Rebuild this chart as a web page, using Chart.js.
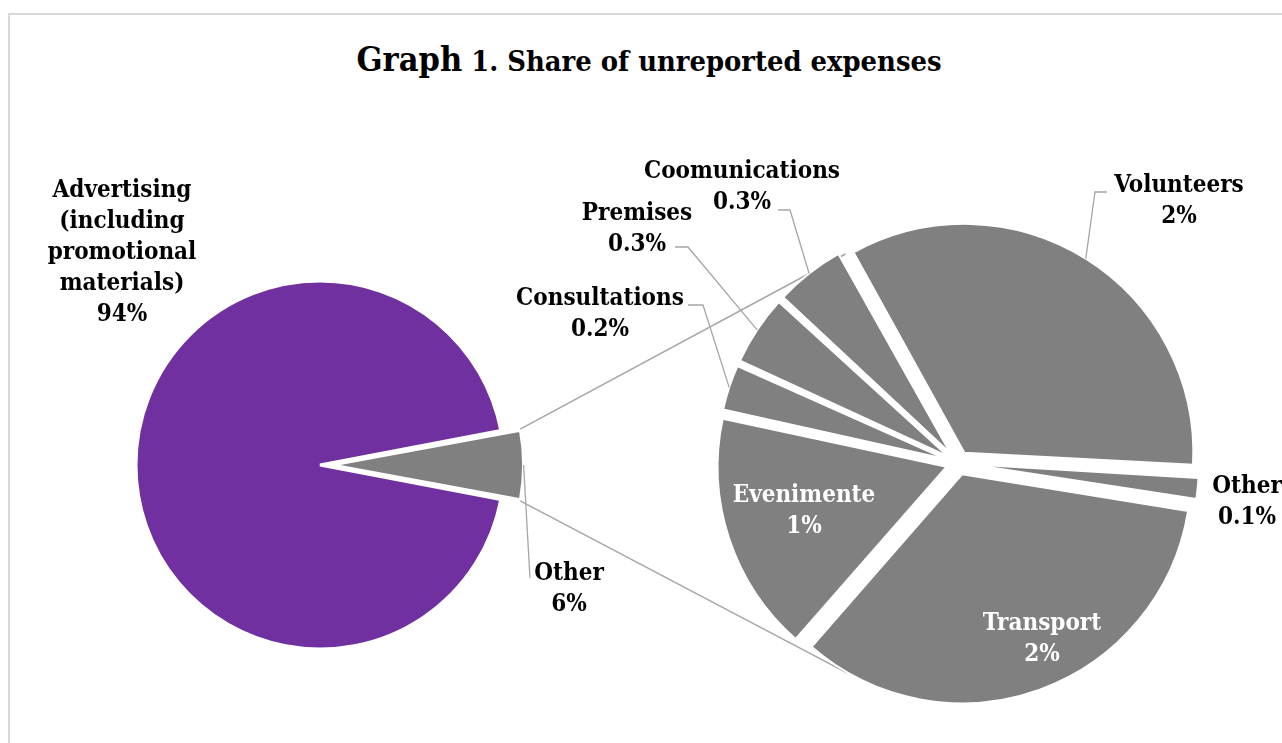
<!DOCTYPE html>
<html>
<head>
<meta charset="utf-8">
<title>Share of unreported expenses</title>
<script src="https://cdn.jsdelivr.net/npm/chart.js@4.4.1/dist/chart.umd.min.js"></script>
<style>
  html, body { margin: 0; padding: 0; background: #fff; overflow: hidden; }
  #page { position: relative; width: 1282px; height: 743px; overflow: hidden; }
  #frame { position: absolute; left: 8px; top: 13px; width: 1400px; height: 800px; border: 2px solid #d9d9d9; }
  #title {
    position: absolute; left: 0; top: 42px; width: 1298px; text-align: center;
    font-family: 'DejaVu Serif Condensed', 'DejaVu Serif', serif; font-weight: bold;
    color: #000; line-height: 1; white-space: nowrap;
  }
  #title .big { font-size: 34px; }
  #title .rest { font-size: 28.8px; }
  canvas { position: absolute; left: 0; top: 0; }
</style>
</head>
<body>
<div id="page">
  <div id="frame"></div>
  <div id="title"><span class="big">Graph</span><span class="rest"> 1. Share of unreported expenses</span></div>
  <canvas id="mainPie" width="1282" height="743"></canvas>
  <canvas id="detailPie" width="1282" height="743"></canvas>
</div>
<script>
// overall split of unreported expenses, %
const mainLabels = [['Advertising', '(including', 'promotional', 'materials)'], 'Other'];
const mainValues = [94, 6];

// what the "Other" slice is made of, %
const detailLabels = ['Volunteers', 'Other', 'Transport', 'Evenimente', 'Consultations', 'Premises', 'Coomunications'];
const detailValues = [2, 0.1, 2, 1, 0.2, 0.3, 0.3];

const FONT = "bold 24px 'DejaVu Serif Condensed', 'DejaVu Serif', serif";
const LINE_H = 31;
const LEADER = '#a6a6a6';

// label spots: centre x, baseline of first line, and the bend of the leader line
const mainLabelPos = [
  { x: 122, y: 197 },
  { x: 569, y: 580, leader: [[530, 578]] }
];
const detailLabelPos = [
  { x: 1179, y: 192, leader: [[1107, 192], [1095, 192]] },
  { x: 1247, y: 493 },
  { x: 1042, y: 630, color: '#fff' },
  { x: 804, y: 502, color: '#fff' },
  { x: 600, y: 305, leader: [[688, 305], [703, 305]] },
  { x: 637, y: 220, leader: [[675, 247], [688, 247]] },
  { x: 742, y: 178, leader: [[778, 210], [790, 210]] }
];

// chart.js pushes an offset slice out by offset/4 and also grows its radius
function shiftOf(arc) {
  return (arc.options.offset || 0) / 4;
}
function drawnRadius(arc) {
  const fix = 1 - Math.sin(Math.min(Math.PI, arc.circumference));
  return arc.outerRadius + shiftOf(arc) * fix;
}
function rimPoint(arc, angle) {
  const mid = (arc.startAngle + arc.endAngle) / 2;
  const s = shiftOf(arc), r = drawnRadius(arc);
  return {
    x: arc.x + Math.cos(mid) * s + Math.cos(angle) * r,
    y: arc.y + Math.sin(mid) * s + Math.sin(angle) * r
  };
}

function drawLabels(chart, labels, values, spots) {
  const ctx = chart.ctx;
  const arcs = chart.getDatasetMeta(0).data;
  ctx.save();
  arcs.forEach((arc, i) => {
    const pos = spots[i];
    if (pos.leader) {
      const mid = (arc.startAngle + arc.endAngle) / 2;
      const end = rimPoint(arc, mid);
      ctx.beginPath();
      ctx.strokeStyle = LEADER;
      ctx.lineWidth = 1.3;
      pos.leader.forEach((p, k) => k ? ctx.lineTo(p[0], p[1]) : ctx.moveTo(p[0], p[1]));
      ctx.lineTo(end.x, end.y);
      ctx.stroke();
    }
    const lines = [].concat(labels[i], values[i] + '%');
    ctx.font = FONT;
    ctx.fillStyle = pos.color || '#000';
    ctx.textAlign = 'center';
    ctx.textBaseline = 'alphabetic';
    lines.forEach((t, k) => ctx.fillText(t, pos.x, pos.y + k * LINE_H));
  });
  ctx.restore();
}

const mainLabelsPlugin = {
  id: 'mainLabels',
  afterDatasetsDraw(chart) {
    drawLabels(chart, mainLabels, mainValues, mainLabelPos);
  }
};

const mainChart = new Chart(document.getElementById('mainPie'), {
  type: 'pie',
  data: {
    labels: mainLabels,
    datasets: [{
      data: mainValues,
      backgroundColor: ['#7030a0', '#808080'],
      borderColor: '#ffffff',
      borderWidth: 3,
      offset: [0, 48]
    }]
  },
  options: {
    responsive: false,
    animation: false,
    events: [],
    radius: 184,
    // keep the "Other" slice pointing straight at the breakdown pie
    rotation: 90 + 180 * mainValues[1] / (mainValues[0] + mainValues[1]),
    layout: { padding: { left: 0, right: 642, top: 200, bottom: 13 } },
    plugins: { legend: { display: false }, tooltip: { enabled: false } }
  },
  plugins: [mainLabelsPlugin]
});

// lines from the corners of the small slice, touching the breakdown pie
function tangentPoint(p, c, r, upper) {
  const d = Math.hypot(p.x - c.x, p.y - c.y);
  const phi = Math.atan2(p.y - c.y, p.x - c.x);
  const a = Math.acos(Math.min(1, r / d));
  const t1 = { x: c.x + r * Math.cos(phi + a), y: c.y + r * Math.sin(phi + a) };
  const t2 = { x: c.x + r * Math.cos(phi - a), y: c.y + r * Math.sin(phi - a) };
  if (upper) return t1.y < t2.y ? t1 : t2;
  return t1.y > t2.y ? t1 : t2;
}

const detailPlugin = {
  id: 'detailPlugin',
  afterDatasetsUpdate(chart) {
    // same rim for every exploded slice
    chart.getDatasetMeta(0).data.forEach(arc => {
      const fix = 1 - Math.sin(Math.min(Math.PI, arc.circumference));
      arc.outerRadius -= shiftOf(arc) * fix;
    });
  },
  beforeDatasetsDraw(chart) {
    const small = mainChart.getDatasetMeta(0).data[1];
    const ref = chart.getDatasetMeta(0).data[0];
    const c = { x: ref.x, y: ref.y };
    // the exploded slices sit a little outside the nominal rim
    const r = chart.options.radius + shiftOf(ref) * 0.7;
    const top = rimPoint(small, small.startAngle);
    const bottom = rimPoint(small, small.endAngle);
    const ctx = chart.ctx;
    ctx.save();
    ctx.strokeStyle = LEADER;
    ctx.lineWidth = 1.5;
    [[top, true], [bottom, false]].forEach(([p, up]) => {
      const t = tangentPoint(p, c, r, up);
      ctx.beginPath();
      ctx.moveTo(p.x, p.y);
      ctx.lineTo(t.x, t.y);
      ctx.stroke();
    });
    ctx.restore();
  },
  afterDatasetsDraw(chart) {
    drawLabels(chart, detailLabels, detailValues, detailLabelPos);
  }
};

new Chart(document.getElementById('detailPie'), {
  type: 'pie',
  data: {
    labels: detailLabels,
    datasets: [{
      data: detailValues,
      backgroundColor: '#808080',
      borderColor: '#ffffff',
      borderWidth: 2,
      offset: 48
    }]
  },
  options: {
    responsive: false,
    animation: false,
    events: [],
    radius: 229,
    rotation: 331,
    layout: { padding: { left: 700, right: 66, top: 200, bottom: 17 } },
    plugins: { legend: { display: false }, tooltip: { enabled: false } }
  },
  plugins: [detailPlugin]
});
</script>
</body>
</html>
